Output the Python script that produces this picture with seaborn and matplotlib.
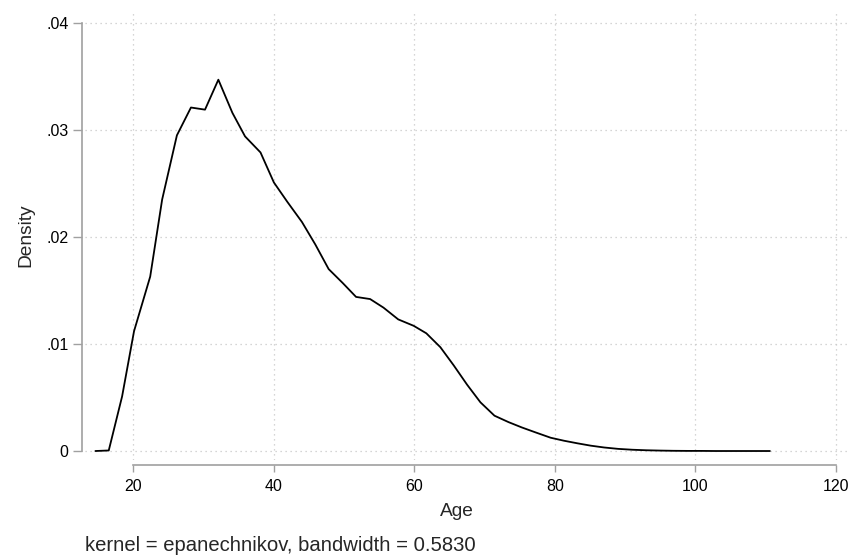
import matplotlib
matplotlib.use("Agg")
import matplotlib.pyplot as plt
import seaborn as sns
import pandas as pd

# kernel density estimate of Age
age = [14.6, 16.5, 18.4, 20.1, 22.4, 24.1, 26.2, 28.2, 30.2, 32.1,
       34.1, 35.9, 38.1, 40.0, 41.9, 44.0, 45.9, 47.8, 49.8, 51.7,
       53.7, 55.6, 57.7, 59.9, 61.7, 63.7, 65.6, 67.5, 69.4, 71.4,
       73.4, 75.3, 77.2, 79.4, 81.3, 83.2, 85.1, 87.0, 89.0, 91.0,
       93.0, 95.0, 96.9, 98.9, 100.8, 102.8, 104.7, 106.7, 108.7, 110.6]
density = [0.0, 0.00005, 0.0051, 0.0112, 0.0163, 0.0235, 0.0295, 0.0321, 0.0319, 0.0347,
           0.0316, 0.0294, 0.0279, 0.0251, 0.0233, 0.0214, 0.0193, 0.0170, 0.0157, 0.0144,
           0.0142, 0.0134, 0.0123, 0.0117, 0.0110, 0.0097, 0.0080, 0.0062, 0.00455, 0.0033,
           0.0027, 0.0022, 0.00175, 0.00124, 0.00096, 0.00072, 0.0005, 0.00033, 0.0002, 0.00012,
           0.00007, 0.00004, 0.00002, 0.00001, 0.00001, 0.0, 0.0, 0.0, 0.0, 0.0]

x_ticks = [20, 40, 60, 80, 100, 120]
y_ticks = [0, 0.01, 0.02, 0.03, 0.04]
y_tick_labels = ["0", ".01", ".02", ".03", ".04"]

sns.set_style("white")
plt.rcParams['font.family'] = ['Liberation Sans', 'DejaVu Sans']

df = pd.DataFrame({'Age': age, 'Density': density})

fig = plt.figure(figsize=(8.51, 5.56), dpi=100)
ax = fig.add_axes([85 / 851, 96 / 556, 765 / 851, 447.3 / 556])

sns.lineplot(data=df, x='Age', y='Density', color='black', linewidth=1.3, ax=ax)

ax.set_xlim(13.12, 122.0)
ax.set_ylim(-0.00084, 0.04096)

ax.set_xticks(x_ticks)
ax.set_yticks(y_ticks)
ax.set_yticklabels(y_tick_labels)
ax.tick_params(axis='both', labelsize=11.5, colors='#a0a0a0', labelcolor='black', width=1)
ax.tick_params(axis='x', direction='out', length=5, pad=5, bottom=True)
ax.tick_params(axis='y', direction='out', length=6.5, pad=3, left=True)

# dotted gridlines like Stata's default scheme
ax.grid(True, linestyle=(0, (1, 3)), color='#c8c8c8', linewidth=0.9)

for side in ['top', 'right']:
    ax.spines[side].set_visible(False)
ax.spines['left'].set_position(('outward', 2.4))
ax.spines['bottom'].set_position(('outward', 3.6))
ax.spines['left'].set_bounds(0, 0.04)
ax.spines['bottom'].set_bounds(20, 120)
for side in ['left', 'bottom']:
    ax.spines[side].set_color('#a0a0a0')
    ax.spines[side].set_linewidth(1.2)

ax.set_xlabel('Age', fontsize=13.8)
ax.set_ylabel('Density', fontsize=13.8)
ax.xaxis.set_label_coords((456.7 - 85) / 765, (460 - 503) / 447.3)
ax.yaxis.set_label_coords((34 - 85) / 765, (460 - 235) / 447.3)

fig.text(85 / 851, 5 / 556, 'kernel = epanechnikov, bandwidth = 0.5830',
         fontsize=14.6, ha='left', va='baseline')

fig.savefig('out.png', dpi=100)
